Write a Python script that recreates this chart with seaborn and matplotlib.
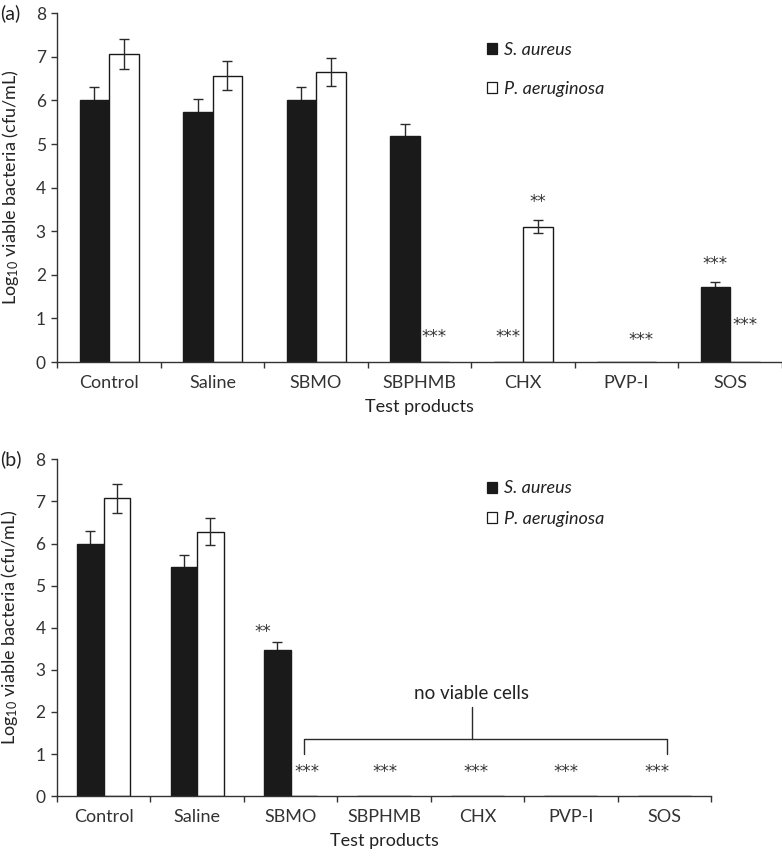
import numpy as np
import pandas as pd
import matplotlib
matplotlib.use("Agg")
import matplotlib.pyplot as plt
from matplotlib.patches import Patch
import seaborn as sns

# ---------------- data ----------------
categories = ["Control", "Saline", "SBMO", "SBPHMB", "CHX", "PVP-I", "SOS"]
species = ["S. aureus", "P. aeruginosa"]

a_sa = [6.0, 5.74, 6.0, 5.19, 0.0, 0.0, 1.73]
a_sa_err = [0.30, 0.29, 0.30, 0.27, 0.0, 0.0, 0.10]
a_pa = [7.07, 6.57, 6.66, 0.0, 3.11, 0.0, 0.0]
a_pa_err = [0.35, 0.33, 0.32, 0.0, 0.16, 0.0, 0.0]

b_sa = [6.0, 5.45, 3.48, 0.0, 0.0, 0.0, 0.0]
b_sa_err = [0.30, 0.28, 0.17, 0.0, 0.0, 0.0, 0.0]
b_pa = [7.07, 6.28, 0.0, 0.0, 0.0, 0.0, 0.0]
b_pa_err = [0.35, 0.32, 0.0, 0.0, 0.0, 0.0, 0.0]

# significance marks: (category index, x offset, y of star centre, text)
a_marks = [(3, 0.1425, 0.66, "***"), (4, -0.1425, 0.66, "***"),
           (4, 0.1425, 3.76, "**"), (5, 0.1425, 0.60, "***"),
           (6, -0.1425, 2.34, "***"), (6, 0.1425, 0.95, "***")]
b_marks = [(2, -0.30, 4.00, "**"), (2, 0.18, 0.66, "***"),
           (3, 0.01, 0.66, "***"), (4, -0.02, 0.66, "***"),
           (5, -0.05, 0.66, "***"), (6, -0.08, 0.66, "***")]
bracket_x = [2.146, 6.03]
bracket_y = [1.0, 1.36]
stem_x = 3.94
stem_top = 2.12
bracket_text = "no viable cells"
bracket_text_y = 2.44

# ---------------- style ----------------
sns.set_style("ticks")
plt.rcParams["font.family"] = ["Lato", "DejaVu Sans"]
plt.rcParams["mathtext.fontset"] = "custom"
plt.rcParams["mathtext.rm"] = "Lato"
plt.rcParams["mathtext.it"] = "Lato:italic"
TXT = "#222222"
plt.rcParams["text.color"] = TXT
plt.rcParams["axes.labelcolor"] = TXT
plt.rcParams["xtick.color"] = "#333333"
plt.rcParams["ytick.color"] = "#333333"

W, H = 782, 860
fig = plt.figure(figsize=(W / 100, H / 100), dpi=100)


def px_axes(left, right, top, bottom):
    return fig.add_axes([left / W, 1 - bottom / H, (right - left) / W, (bottom - top) / H])


ax_a = px_axes(57.3, 781.8, 13.3, 362.1)
ax_b = px_axes(57.0, 711.0, 459.3, 796.1)

palette = {"S. aureus": "#1a1a1a", "P. aeruginosa": "#ffffff"}


def make_df(sa, pa):
    return pd.DataFrame({
        "product": categories * 2,
        "species": [species[0]] * len(categories) + [species[1]] * len(categories),
        "value": list(sa) + list(pa),
    })


def draw_panel(ax, sa, sa_err, pa, pa_err, marks, legend_top, legend_spacing):
    df = make_df(sa, pa)
    sns.barplot(data=df, x="product", y="value", hue="species", order=categories,
                hue_order=species, palette=palette, width=0.57, errorbar=None,
                edgecolor="#1a1a1a", linewidth=1.0, legend=False, ax=ax, zorder=2)
    errs = [sa_err, pa_err]
    bar_conts = list(ax.containers)[:2]
    for ci, cont in enumerate(bar_conts):
        for j, bar in enumerate(cont):
            e = errs[ci][j]
            if e > 0:
                # dark bars hide the lower half of their error bar
                z = 1.5 if ci == 0 else 3
                ax.errorbar(bar.get_x() + bar.get_width() / 2, bar.get_height(), yerr=e,
                            color="#2a2a2a", elinewidth=1.0, capsize=3.3, capthick=1.0,
                            zorder=z)
    for ci_, off, yv, t in marks:
        ax.annotate(t, xy=(ci_ + off, yv), xytext=(0, -6.5), textcoords="offset points",
                    ha="center", va="baseline", fontsize=12, color="#333333",
                    family="DejaVu Sans")
    ax.set_xlim(-0.5, len(categories) - 0.5)
    ax.set_ylim(0, 8)
    ax.set_yticks(range(0, 9))
    ax.set_xticks(np.arange(-0.5, len(categories), 1.0))
    ax.set_xticklabels([])
    ax.set_xticks(range(len(categories)), minor=True)
    ax.set_xticklabels(categories, minor=True, fontsize=13)
    ax.tick_params(axis="x", which="minor", length=0, pad=9)
    ax.tick_params(axis="x", which="major", length=4.5, width=1.0, direction="out")
    ax.tick_params(axis="y", length=4.2, width=1.0, direction="out", labelsize=12.5, pad=4)
    for s in ["top", "right"]:
        ax.spines[s].set_visible(False)
    for s in ["left", "bottom"]:
        ax.spines[s].set_color("#333333")
        ax.spines[s].set_linewidth(1.0)
    ax.set_xlabel("Test products", fontsize=13, labelpad=6)
    ax.set_ylabel(r"Log$_{\mathregular{10}}$ viable bacteria (cfu/mL)", fontsize=13, labelpad=11)
    handles = [Patch(facecolor=palette[s], edgecolor="#1a1a1a", linewidth=0.9) for s in species]
    fig.legend(handles, species, loc="upper left",
               bbox_to_anchor=(487.3 / W, 1 - legend_top / H),
               bbox_transform=fig.transFigure, frameon=False, borderpad=0,
               borderaxespad=0, handlelength=0.55, handleheight=0.55,
               handletextpad=0.4, labelspacing=legend_spacing,
               prop={"style": "italic", "size": 13})


draw_panel(ax_a, a_sa, a_sa_err, a_pa, a_pa_err, a_marks, 42.0, 1.25)
draw_panel(ax_b, b_sa, b_sa_err, b_pa, b_pa_err, b_marks, 480.5, 0.78)

# bracket in panel b
ax_b.plot([bracket_x[0], bracket_x[0], bracket_x[1], bracket_x[1]],
          [bracket_y[0], bracket_y[1], bracket_y[1], bracket_y[0]],
          color="#2a2a2a", lw=1.0, zorder=3)
ax_b.plot([stem_x, stem_x], [bracket_y[1], stem_top], color="#2a2a2a", lw=1.0, zorder=3)
ax_b.text(stem_x, bracket_text_y, bracket_text, ha="center", va="center", fontsize=13.5)

fig.text(0.0, 1 - 13.5 / H, "(a)", ha="left", va="center", fontsize=14)
fig.text(0.0, 1 - 459.5 / H, "(b)", ha="left", va="center", fontsize=14)

fig.savefig("out.png", dpi=100)
